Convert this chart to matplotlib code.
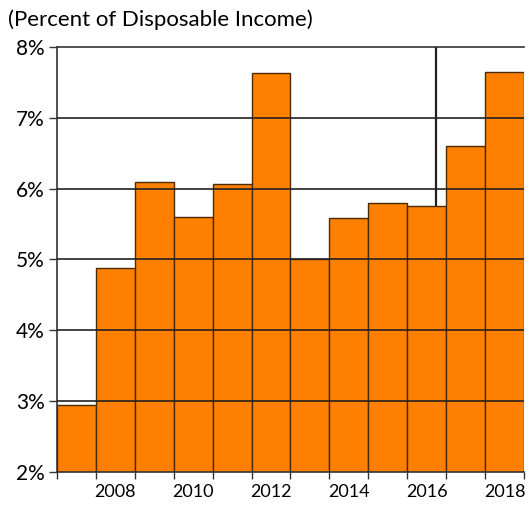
import numpy as np
import matplotlib
matplotlib.use('Agg')
import matplotlib.pyplot as plt

plt.rcParams['font.family'] = ['Lato', 'DejaVu Sans']

# annual values, percent of disposable income
years = [2007, 2008, 2009, 2010, 2011, 2012, 2013, 2014, 2015, 2016, 2017, 2018]
values = [2.95, 4.88, 6.10, 5.60, 6.07, 7.63, 5.00, 5.58, 5.80, 5.75, 6.60, 7.65]
label_years = [2008, 2010, 2012, 2014, 2016, 2018]
y_ticks = [2, 3, 4, 5, 6, 7, 8]
marker_x = 2016.25

fig = plt.figure(figsize=(5.31, 5.08), dpi=100)
ax = fig.add_axes([0.1073, 0.0709, 0.8795, 0.8366])

ax.bar(years, values, width=1.0, color='#FF8000', edgecolor='#4a2a00',
       linewidth=1.0, zorder=2)

# horizontal grid over the bars
for y in y_ticks[1:-1]:
    ax.axhline(y, color='#222222', linewidth=1.2, zorder=3)

# vertical divider, behind the bars
ax.axvline(marker_x, color='#222222', linewidth=1.6, zorder=1)

ax.set_xlim(2006.5, 2018.5)
ax.set_ylim(2, 8)

ax.set_yticks(y_ticks)
ax.set_yticklabels(['{}%'.format(v) for v in y_ticks], fontsize=15)
ax.set_xticks(label_years)
ax.set_xticklabels([str(y) for y in label_years], fontsize=13)
ax.set_xticks(np.arange(2006.5, 2019.0, 1.0), minor=True)
ax.tick_params(axis='x', which='major', length=0, pad=9)
ax.tick_params(axis='x', which='minor', length=5, width=1, color='#333333')
ax.tick_params(axis='y', length=6, width=1, color='#333333', pad=3)

ax.spines['right'].set_visible(False)
for s in ['left', 'top', 'bottom']:
    ax.spines[s].set_color('#333333')
    ax.spines[s].set_linewidth(1.2)
ax.spines['top'].set_zorder(4)

fig.text(0.015, 0.962, '(Percent of Disposable Income)', fontsize=16,
         ha='left', va='center')

fig.savefig('out.png', dpi=100)
